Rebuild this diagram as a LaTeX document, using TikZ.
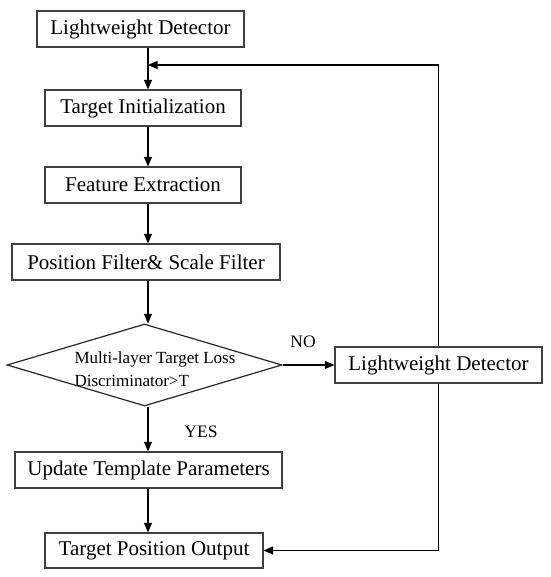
\documentclass[tikz,border=0pt]{standalone}
\usepackage{fontspec}
\setmainfont{Liberation Serif}
\usetikzlibrary{arrows.meta, shapes.geometric}
\tikzset{
    stepbox/.style={draw=black!75, line width=1.2pt, minimum height=36pt, inner sep=0pt, font=\fontsize{21}{24}\selectfont},
    decision/.style={diamond, draw=black!85, line width=1.2pt, inner sep=0pt, minimum width=275pt, minimum height=82pt},
    flow/.style={-{Triangle[length=9.5pt, width=8pt]}, line width=1.2pt, black},
    tag/.style={font=\fontsize{17.5}{21}\selectfont}
}

\begin{document}
\begin{tikzpicture}[x=1pt, y=-1pt]
    \useasboundingbox (0,0) rectangle (550,577);
    % Main column
    \coordinate (spine) at (148,0);
    \coordinate (join) at (148,65);
    \node[stepbox, minimum width=207pt] (det) at (140.5,29) {Lightweight Detector};
    \node[stepbox, minimum width=196pt] (init) at (143,108) {Target Initialization};
    \node[stepbox, minimum width=196pt] (feat) at (143,185) {Feature Extraction};
    \node[stepbox, minimum width=268pt] (filt) at (146,262) {Position Filter\& Scale Filter};
    \node[decision] (judge) at (144.5,365) {};
    \node[tag, font=\fontsize{17}{22.5}\selectfont, align=left, anchor=west] (judgetxt) at (71,369) {Multi-layer Target Loss\\Discriminator>T};
    \node[stepbox, minimum width=267pt] (upd) at (148.5,470) {Update Template Parameters};
    \node[stepbox, minimum width=218pt, minimum height=35pt] (out) at (154,550.5) {Target Position Output};

    % Re-detection branch
    \node[stepbox, minimum width=207pt] (redet) at (438.5,365) {Lightweight Detector};

    \draw[flow] (det.south -| spine) -- (init.north -| spine);
    \draw[flow] (init.south -| spine) -- (feat.north -| spine);
    \draw[flow] (feat.south -| spine) -- (filt.north -| spine);
    \draw[flow] (filt.south -| spine) -- (judge.north -| spine);
    \draw[flow] (judge.east) -- (redet.west);
    \node[tag] (no) at (303,342) {NO};
    \draw[flow] (judge.south -| spine) -- (upd.north -| spine);
    \node[tag] (yes) at (201,432) {YES};
    \draw[flow] (upd.south -| spine) -- (out.north -| spine);
    \draw[flow] (redet.north) |- (join);
    \draw[flow] (redet.south) |- (out.east);
\end{tikzpicture}
\end{document}
